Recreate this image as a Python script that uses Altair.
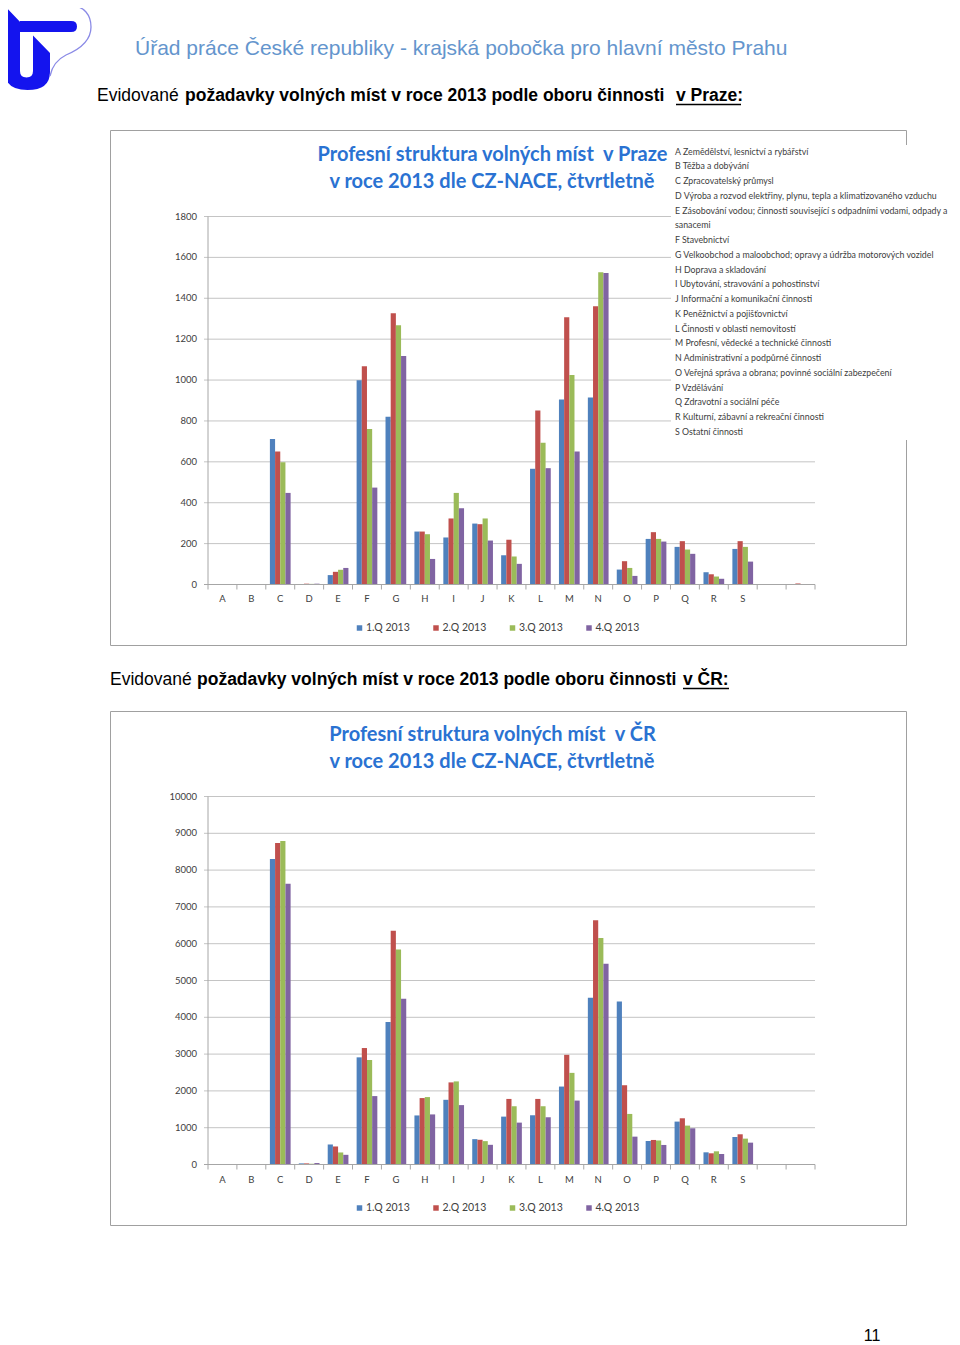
import altair as alt
import pandas as pd

# ---------------- data ----------------
SLOTS = list("ABCDEFGHIJKLMNOPQRS") + ["T", "U"]   # two unlabeled trailing slots as in the original
LABELS = list("ABCDEFGHIJKLMNOPQRS")
QUARTERS = ["1.Q 2013", "2.Q 2013", "3.Q 2013", "4.Q 2013"]
COLORS = ["#4F81BD", "#C0504D", "#9BBB59", "#8064A2"]

PRAHA_Q1 = [0, 0, 712, 2, 46, 999, 820, 259, 230, 298, 143, 566, 905, 915, 73, 223, 184, 60, 174, 0, 0]
PRAHA_Q2 = [0, 0, 650, 4, 62, 1068, 1327, 259, 323, 295, 219, 851, 1307, 1361, 114, 256, 212, 50, 212, 0, 5]
PRAHA_Q3 = [0, 0, 598, 3, 72, 761, 1268, 246, 448, 323, 137, 693, 1025, 1527, 81, 223, 171, 39, 184, 0, 0]
PRAHA_Q4 = [0, 0, 448, 4, 81, 474, 1118, 125, 373, 215, 101, 569, 650, 1524, 42, 210, 150, 28, 112, 0, 0]

CR_Q1 = [0, 0, 8299, 30, 544, 2912, 3873, 1333, 1758, 689, 1301, 1338, 2118, 4531, 4431, 639, 1166, 331, 748, 0, 0]
CR_Q2 = [0, 0, 8735, 30, 490, 3165, 6349, 1805, 2231, 672, 1782, 1782, 2980, 6635, 2154, 667, 1256, 304, 821, 0, 0]
CR_Q3 = [0, 0, 8789, 20, 327, 2839, 5840, 1832, 2258, 635, 1583, 1583, 2490, 6154, 1374, 653, 1057, 358, 703, 0, 0]
CR_Q4 = [0, 0, 7627, 40, 263, 1859, 4507, 1361, 1614, 535, 1138, 1284, 1737, 5456, 757, 531, 984, 286, 594, 0, 0]

PRAHA_TICKS = [0, 200, 400, 600, 800, 1000, 1200, 1400, 1600, 1800]
CR_TICKS = [0, 1000, 2000, 3000, 4000, 5000, 6000, 7000, 8000, 9000, 10000]

NACE_LINES = [
    "A Zemědělství, lesnictví a rybářství",
    "B Těžba a dobývání",
    "C Zpracovatelský průmysl",
    "D Výroba a rozvod elektřiny, plynu, tepla a klimatizovaného vzduchu",
    "E Zásobování vodou; činnosti související s odpadními vodami, odpady a",
    "sanacemi",
    "F Stavebnictví",
    "G Velkoobchod a maloobchod; opravy a údržba motorových vozidel",
    "H Doprava a skladování",
    "I Ubytování, stravování a pohostinství",
    "J Informační a komunikační činnosti",
    "K Peněžnictví a pojišťovnictví",
    "L Činnosti v oblasti nemovitostí",
    "M Profesní, vědecké a technické činnosti",
    "N Administrativní a podpůrné činnosti",
    "O Veřejná správa a obrana; povinné sociální zabezpečení",
    "P Vzdělávání",
    "Q Zdravotní a sociální péče",
    "R Kulturní, zábavní a rekreační činnosti",
    "S Ostatní činnosti",
]

HEADER = "Úřad práce České republiky - krajská pobočka pro hlavní město Prahu"
SUB_NORMAL = "Evidované"
SUB_BOLD = "požadavky volných míst v roce 2013 podle oboru činnosti"
SUB1_UL = "v Praze:"
SUB2_UL = "v ČR:"
TITLE1 = ["Profesní struktura volných míst \u00a0v Praze", "v roce 2013 dle CZ-NACE, čtvrtletně"]
TITLE2 = ["Profesní struktura volných míst \u00a0v ČR", "v roce 2013 dle CZ-NACE, čtvrtletně"]
PAGE_NO = "11"

# ---------------- styling ----------------
W, H = 944, 1336
X0, X1 = 200, 807
GRID = "#C4C4C4"
AXIS = "#A6A6A6"
TXT = "#404040"
TITLE_COLOR = "#2A72D2"
SMALL_FONT = "Lato"


def long_df(series):
    rows = []
    for q, vals in zip(QUARTERS, series):
        for c, v in zip(SLOTS, vals):
            rows.append({"cat": c, "q": q, "v": v})
    return pd.DataFrame(rows)


def one(text):
    return pd.DataFrame({"t": [text]})


def text_layer(text, x, y, size, font, color, align="left", weight="normal"):
    return alt.Chart(one(text)).mark_text(
        align=align, baseline="middle", fontSize=size, font=font, color=color, fontWeight=weight
    ).encode(x=alt.value(x), y=alt.value(y), text="t:N")


def panel(series, ymax, ticks, y_zero, y_top, label_y, legend_y):
    xs = alt.Scale(domain=SLOTS, range=[X0, X1], paddingInner=0, paddingOuter=0)
    ys = alt.Scale(domain=[0, ymax], range=[y_zero, y_top], nice=False, zero=True)
    cs = alt.Scale(domain=QUARTERS, range=COLORS)
    tdf = pd.DataFrame({"v": ticks, "lab": [str(t) for t in ticks]})
    layers = []
    layers.append(
        alt.Chart(tdf[tdf.v > 0]).mark_rule(color=GRID, strokeWidth=1).encode(
            y=alt.Y("v:Q", scale=ys, axis=None), x=alt.value(X0 - 4), x2=alt.value(X1)
        )
    )
    layers.append(
        alt.Chart(long_df(series)).mark_bar().encode(
            x=alt.X("cat:N", scale=xs, axis=None, sort=SLOTS),
            xOffset=alt.XOffset("q:N", scale=alt.Scale(domain=QUARTERS, paddingInner=0, paddingOuter=0.79)),
            y=alt.Y("v:Q", scale=ys, axis=None),
            color=alt.Color("q:N", scale=cs, legend=None),
        )
    )
    # axis lines
    layers.append(
        alt.Chart(tdf[tdf.v == 0]).mark_rule(color=AXIS, strokeWidth=1).encode(
            y=alt.Y("v:Q", scale=ys, axis=None), x=alt.value(X0 - 4), x2=alt.value(X1)
        )
    )
    layers.append(
        alt.Chart(pd.DataFrame({"a": [0], "b": [ymax]})).mark_rule(color=AXIS, strokeWidth=1).encode(
            y=alt.Y("a:Q", scale=ys, axis=None), y2="b:Q", x=alt.value(X0)
        )
    )
    # category boundary ticks
    layers.append(
        alt.Chart(pd.DataFrame({"c": SLOTS})).mark_rule(color=AXIS, strokeWidth=1).encode(
            x=alt.X("c:N", scale=xs, axis=None, bandPosition=0),
            y=alt.value(y_zero), y2=alt.value(y_zero + 5),
        )
    )
    layers.append(
        alt.Chart(pd.DataFrame({"c": SLOTS[-1:]})).mark_rule(color=AXIS, strokeWidth=1).encode(
            x=alt.X("c:N", scale=xs, axis=None, bandPosition=1),
            y=alt.value(y_zero), y2=alt.value(y_zero + 5),
        )
    )
    # value labels
    layers.append(
        alt.Chart(tdf).mark_text(align="right", baseline="middle", fontSize=9.5, font=SMALL_FONT, color=TXT).encode(
            y=alt.Y("v:Q", scale=ys, axis=None), x=alt.value(X0 - 11), text="lab:N"
        )
    )
    # category labels
    layers.append(
        alt.Chart(pd.DataFrame({"c": LABELS})).mark_text(baseline="middle", fontSize=9.5, font=SMALL_FONT, color=TXT).encode(
            x=alt.X("c:N", scale=xs, axis=None), y=alt.value(label_y), text="c:N"
        )
    )
    # legend
    ls = alt.Scale(type="point", domain=QUARTERS, range=[351.5, 581], padding=0)
    ldf = pd.DataFrame({"q": QUARTERS})
    layers.append(
        alt.Chart(ldf).mark_square(size=30, opacity=1).encode(
            x=alt.X("q:N", scale=ls, axis=None), y=alt.value(legend_y),
            color=alt.Color("q:N", scale=cs, legend=None),
        )
    )
    layers.append(
        alt.Chart(ldf).mark_text(align="left", baseline="middle", dx=6.5, fontSize=10.5, font=SMALL_FONT, color=TXT).encode(
            x=alt.X("q:N", scale=ls, axis=None), y=alt.value(legend_y), text="q:N"
        )
    )
    return layers


def box(y_top, y_bottom):
    return alt.Chart(one("")).mark_rect(fill="white", stroke="#A0A0A0", strokeWidth=1).encode(
        x=alt.value(102.5), x2=alt.value(898.5), y=alt.value(y_top + 0.5), y2=alt.value(y_bottom + 0.5)
    )


# logo paths (page pixels around center 48,48; 45 px per unit)
def logo_path(cmds, cx=48.0, cy=48.0, r=45.0):
    out = []
    for c, pts in cmds:
        s = c
        for i in range(0, len(pts), 2):
            s += " %.4f %.4f" % ((pts[i] - cx) / r, (pts[i + 1] - cy) / r)
        out.append(s)
    return " ".join(out)


LOGO_FILL = logo_path([
    ("M", [5, 6]), ("L", [29.7, 32]), ("L", [33, 32]), ("L", [33, 35.5]), ("L", [50, 53]),
    ("L", [50, 72]), ("Q", [50, 90, 27.5, 90]), ("Q", [5, 90, 5, 72]), ("Z", []),
    ("M", [20, 21]), ("L", [71, 21]), ("Q", [77, 21, 77, 26.5]), ("Q", [77, 32, 71, 32]), ("L", [20, 32]), ("Z", []),
    ("M", [20, 32]), ("L", [20, 71]), ("Q", [20, 77.5, 26.5, 77.5]), ("Q", [33, 77.5, 33, 71]), ("L", [33, 32]), ("Z", []),
])
LOGO_LINE = logo_path([
    ("M", [5, 6]), ("L", [72, 6]), ("C", [84, 6, 91, 15, 91, 27]), ("C", [91, 42, 78, 50, 66, 55]),
    ("C", [58, 59, 52, 66, 50, 76]),
])

layers = []
layers.append(box(122, 637))
layers.append(box(703, 1217))
layers += panel([PRAHA_Q1, PRAHA_Q2, PRAHA_Q3, PRAHA_Q4], 1800, PRAHA_TICKS, 576.5, 208.5, 591, 620)
layers += panel([CR_Q1, CR_Q2, CR_Q3, CR_Q4], 10000, CR_TICKS, 1156.5, 788.5, 1172, 1200)

# white panel behind the NACE list (covers gridlines and the box edge, as in the original)
layers.append(
    alt.Chart(one("")).mark_rect(fill="white").encode(
        x=alt.value(663), x2=alt.value(952), y=alt.value(137), y2=alt.value(432)
    )
)
layers.append(
    alt.Chart(one("")).mark_text(align="left", baseline="top", fontSize=8.8, font=SMALL_FONT, color=TXT,
                                 lineHeight=14.75).encode(
        x=alt.value(667), y=alt.value(139.5), text=alt.value(NACE_LINES)
    )
)

# titles
layers.append(text_layer(TITLE1[0], 484.5, 147, 20, "Lato", TITLE_COLOR, "center", "bold"))
layers.append(text_layer(TITLE1[1], 484, 174, 20, "Lato", TITLE_COLOR, "center", "bold"))
layers.append(text_layer(TITLE2[0], 484.5, 727, 20, "Lato", TITLE_COLOR, "center", "bold"))
layers.append(text_layer(TITLE2[1], 484, 754, 20, "Lato", TITLE_COLOR, "center", "bold"))

# page header
layers.append(
    alt.Chart(one("")).mark_point(shape=LOGO_FILL, size=8100, filled=True, color="#1414EE", opacity=1).encode(
        x=alt.value(40), y=alt.value(40)
    )
)
layers.append(
    alt.Chart(one("")).mark_point(shape=LOGO_LINE, size=8100, filled=False, color="#8A8AE6", strokeWidth=1.3, opacity=1).encode(
        x=alt.value(40), y=alt.value(40)
    )
)
layers.append(text_layer(HEADER, 127, 40.5, 21, "Liberation Sans", "#6495CD"))

# section subtitles
layers.append(text_layer(SUB_NORMAL, 89, 88, 17.5, "Liberation Sans", "black"))
layers.append(text_layer(SUB_BOLD, 177, 88, 17.5, "Liberation Sans", "black", weight="bold"))
layers.append(text_layer(SUB1_UL, 668, 88, 17.5, "Liberation Sans", "black", weight="bold"))
layers.append(
    alt.Chart(one("")).mark_rule(color="black", strokeWidth=1.5).encode(
        x=alt.value(668), x2=alt.value(733), y=alt.value(96.5)
    )
)
layers.append(text_layer(SUB_NORMAL, 102, 672, 17.5, "Liberation Sans", "black"))
layers.append(text_layer(SUB_BOLD, 189, 672, 17.5, "Liberation Sans", "black", weight="bold"))
layers.append(text_layer(SUB2_UL, 675, 672, 17.5, "Liberation Sans", "black", weight="bold"))
layers.append(
    alt.Chart(one("")).mark_rule(color="black", strokeWidth=1.5).encode(
        x=alt.value(675), x2=alt.value(721), y=alt.value(680.5)
    )
)

layers.append(text_layer(PAGE_NO, 864, 1328, 16, "Liberation Sans", "black", "center"))

chart = (
    alt.layer(*layers)
    .resolve_scale(x="independent", y="independent", color="independent", xOffset="independent")
    .properties(width=W, height=H, padding=0, autosize=alt.AutoSizeParams(type="none"))
    .configure_view(strokeWidth=0)
)

chart.save("out.html", embed_options={"renderer": "svg", "actions": False})
